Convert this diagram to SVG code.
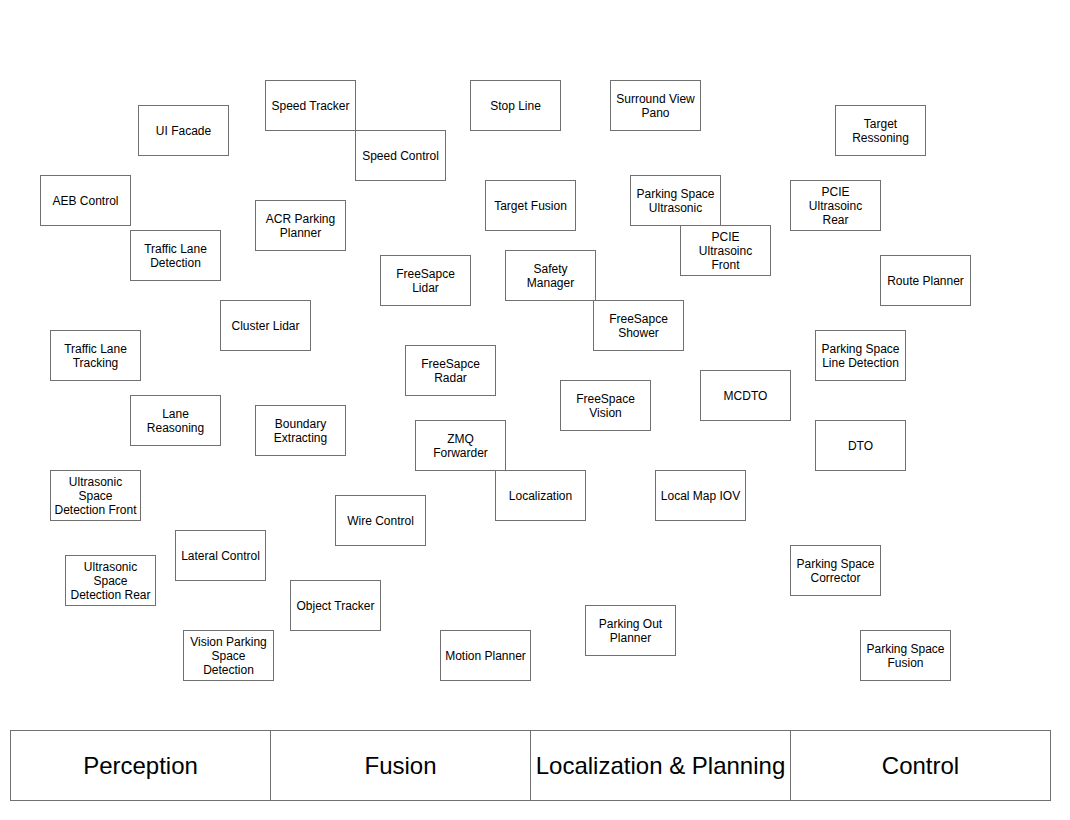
<svg xmlns="http://www.w3.org/2000/svg" width="1070" height="820" viewBox="0 0 1070 820">
<style>
rect{fill:#fff;stroke:#707070;stroke-width:1}
text{font-family:"Liberation Sans",Arial,sans-serif;font-size:12px;fill:#000;text-anchor:middle}
.big{font-size:24px}
</style>
<rect x="0" y="0" width="1070" height="820" style="stroke:none"/>
<g id="n-ui-facade"><rect x="138.5" y="105.5" width="90" height="50"/><text x="183.5" y="134.5">UI Facade</text></g>
<g id="n-speed-tracker"><rect x="265.5" y="80.5" width="90" height="50"/><text x="310.5" y="109.5">Speed Tracker</text></g>
<g id="n-speed-control"><rect x="355.5" y="130.5" width="90" height="50"/><text x="400.5" y="159.5">Speed Control</text></g>
<g id="n-stop-line"><rect x="470.5" y="80.5" width="90" height="50"/><text x="515.5" y="109.5">Stop Line</text></g>
<g id="n-surround"><rect x="610.5" y="80.5" width="90" height="50"/><text x="655.5" y="102.5">Surround View</text><text x="655.5" y="116.5">Pano</text></g>
<g id="n-target-ressoning"><rect x="835.5" y="105.5" width="90" height="50"/><text x="880.5" y="127.5">Target</text><text x="880.5" y="141.5">Ressoning</text></g>
<g id="n-aeb"><rect x="40.5" y="175.5" width="90" height="50"/><text x="85.5" y="204.5">AEB Control</text></g>
<g id="n-acr"><rect x="255.5" y="200.5" width="90" height="50"/><text x="300.5" y="222.5">ACR Parking</text><text x="300.5" y="236.5">Planner</text></g>
<g id="n-target-fusion"><rect x="485.5" y="180.5" width="90" height="50"/><text x="530.5" y="209.5">Target Fusion</text></g>
<g id="n-ps-ultra"><rect x="630.5" y="175.5" width="90" height="50"/><text x="675.5" y="197.5">Parking Space</text><text x="675.5" y="211.5">Ultrasonic</text></g>
<g id="n-pcie-rear"><rect x="790.5" y="180.5" width="90" height="50"/><text x="835.5" y="195.5">PCIE</text><text x="835.5" y="209.5">Ultrasoinc</text><text x="835.5" y="223.5">Rear</text></g>
<g id="n-tld"><rect x="130.5" y="230.5" width="90" height="50"/><text x="175.5" y="252.5">Traffic Lane</text><text x="175.5" y="266.5">Detection</text></g>
<g id="n-pcie-front"><rect x="680.5" y="225.5" width="90" height="50"/><text x="725.5" y="240.5">PCIE</text><text x="725.5" y="254.5">Ultrasoinc</text><text x="725.5" y="268.5">Front</text></g>
<g id="n-fs-lidar"><rect x="380.5" y="255.5" width="90" height="50"/><text x="425.5" y="277.5">FreeSapce</text><text x="425.5" y="291.5">Lidar</text></g>
<g id="n-safety"><rect x="505.5" y="250.5" width="90" height="50"/><text x="550.5" y="272.5">Safety</text><text x="550.5" y="286.5">Manager</text></g>
<g id="n-route"><rect x="880.5" y="255.5" width="90" height="50"/><text x="925.5" y="284.5">Route Planner</text></g>
<g id="n-cluster"><rect x="220.5" y="300.5" width="90" height="50"/><text x="265.5" y="329.5">Cluster Lidar</text></g>
<g id="n-fs-shower"><rect x="593.5" y="300.5" width="90" height="50"/><text x="638.5" y="322.5">FreeSapce</text><text x="638.5" y="336.5">Shower</text></g>
<g id="n-tlt"><rect x="50.5" y="330.5" width="90" height="50"/><text x="95.5" y="352.5">Traffic Lane</text><text x="95.5" y="366.5">Tracking</text></g>
<g id="n-psld"><rect x="815.5" y="330.5" width="90" height="50"/><text x="860.5" y="352.5">Parking Space</text><text x="860.5" y="366.5">Line Detection</text></g>
<g id="n-fs-radar"><rect x="405.5" y="345.5" width="90" height="50"/><text x="450.5" y="367.5">FreeSapce</text><text x="450.5" y="381.5">Radar</text></g>
<g id="n-mcdto"><rect x="700.5" y="370.5" width="90" height="50"/><text x="745.5" y="399.5">MCDTO</text></g>
<g id="n-fs-vision"><rect x="560.5" y="380.5" width="90" height="50"/><text x="605.5" y="402.5">FreeSpace</text><text x="605.5" y="416.5">Vision</text></g>
<g id="n-lane-reasoning"><rect x="130.5" y="395.5" width="90" height="50"/><text x="175.5" y="417.5">Lane</text><text x="175.5" y="431.5">Reasoning</text></g>
<g id="n-boundary"><rect x="255.5" y="405.5" width="90" height="50"/><text x="300.5" y="427.5">Boundary</text><text x="300.5" y="441.5">Extracting</text></g>
<g id="n-zmq"><rect x="415.5" y="420.5" width="90" height="50"/><text x="460.5" y="442.5">ZMQ</text><text x="460.5" y="456.5">Forwarder</text></g>
<g id="n-dto"><rect x="815.5" y="420.5" width="90" height="50"/><text x="860.5" y="449.5">DTO</text></g>
<g id="n-usdf"><rect x="50.5" y="470.5" width="90" height="50"/><text x="95.5" y="485.5">Ultrasonic</text><text x="95.5" y="499.5">Space</text><text x="95.5" y="513.5">Detection Front</text></g>
<g id="n-localization"><rect x="495.5" y="470.5" width="90" height="50"/><text x="540.5" y="499.5">Localization</text></g>
<g id="n-lmiov"><rect x="655.5" y="470.5" width="90" height="50"/><text x="700.5" y="499.5">Local Map IOV</text></g>
<g id="n-wire"><rect x="335.5" y="495.5" width="90" height="50"/><text x="380.5" y="524.5">Wire Control</text></g>
<g id="n-lateral"><rect x="175.5" y="530.5" width="90" height="50"/><text x="220.5" y="559.5">Lateral Control</text></g>
<g id="n-psc"><rect x="790.5" y="545.5" width="90" height="50"/><text x="835.5" y="567.5">Parking Space</text><text x="835.5" y="581.5">Corrector</text></g>
<g id="n-usdr"><rect x="65.5" y="555.5" width="90" height="50"/><text x="110.5" y="570.5">Ultrasonic</text><text x="110.5" y="584.5">Space</text><text x="110.5" y="598.5">Detection Rear</text></g>
<g id="n-object"><rect x="290.5" y="580.5" width="90" height="50"/><text x="335.5" y="609.5">Object Tracker</text></g>
<g id="n-pop"><rect x="585.5" y="605.5" width="90" height="50"/><text x="630.5" y="627.5">Parking Out</text><text x="630.5" y="641.5">Planner</text></g>
<g id="n-vpsd"><rect x="183.5" y="630.5" width="90" height="50"/><text x="228.5" y="645.5">Vision Parking</text><text x="228.5" y="659.5">Space</text><text x="228.5" y="673.5">Detection</text></g>
<g id="n-motion"><rect x="440.5" y="630.5" width="90" height="50"/><text x="485.5" y="659.5">Motion Planner</text></g>
<g id="n-psf"><rect x="860.5" y="630.5" width="90" height="50"/><text x="905.5" y="652.5">Parking Space</text><text x="905.5" y="666.5">Fusion</text></g>
<g id="connectors"></g>
<g id="lane-perception"><rect x="10.5" y="730.5" width="260" height="70"/><text class="big" x="140.5" y="773.5">Perception</text></g>
<g id="lane-fusion"><rect x="270.5" y="730.5" width="260" height="70"/><text class="big" x="400.5" y="773.5">Fusion</text></g>
<g id="lane-locplan"><rect x="530.5" y="730.5" width="260" height="70"/><text class="big" x="660.5" y="773.5">Localization &amp; Planning</text></g>
<g id="lane-control"><rect x="790.5" y="730.5" width="260" height="70"/><text class="big" x="920.5" y="773.5">Control</text></g>
</svg>
